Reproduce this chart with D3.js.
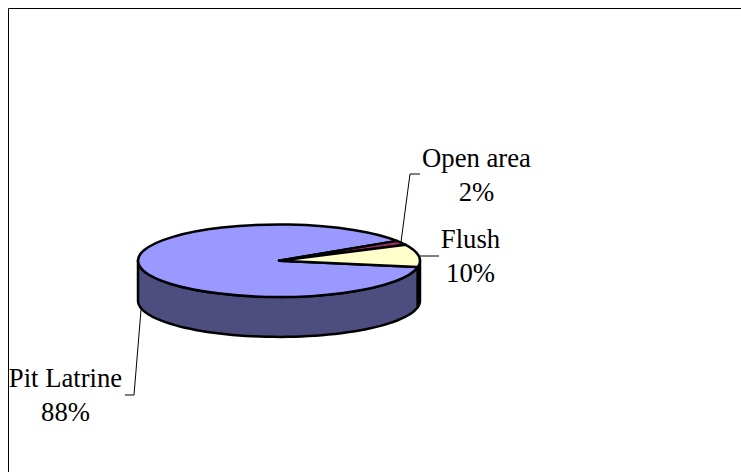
<!DOCTYPE html>
<html>
<head>
<meta charset="utf-8">
<style>
  html, body { margin: 0; padding: 0; background: #fff; }
  svg { display: block; }
  text { font-family: "Liberation Serif", serif; font-size: 26.7px; fill: #000; text-anchor: middle; }
</style>
<script src="https://cdn.jsdelivr.net/npm/d3@7/dist/d3.min.js"></script>
</head>
<body>
<svg id="chart" width="741" height="472"></svg>
<script>
const categories = ["Pit Latrine", "Open area", "Flush"];
const shares = [88, 2, 10];
const topColors = ["#9999ff", "#993366", "#ffffcc"];
const sideColors = ["#4d4d80", "#4d1a33", "#808066"];
const percentLabels = ["88%", "2%", "10%"];

const width = 741, height = 472;
const cx = 279, cy = 260.7, rx = 141, ry = 36.2, depth = 40;
const firstAngle = 100 * Math.PI / 180;

// Label anchors (text centre, first baseline) and leader-line elbows for each slice
const labelAt = [[65.5, 387], [476.5, 167], [470.5, 248]];
const leaders = [
  [[141, 310], [134, 395], [125, 395]],
  [[401, 242], [410, 174], [420, 174]],
  [[420, 256], [439, 256]]
];

const svg = d3.select("#chart");

// Frame open on the right and bottom sides
svg.append("path")
  .attr("d", d3.line()([[8.5, height], [8.5, 8.5], [width, 8.5]]))
  .attr("fill", "none").attr("stroke", "#000").attr("stroke-width", 1);

const arcs = d3.pie().sort(null)
  .startAngle(firstAngle).endAngle(firstAngle + 2 * Math.PI)(shares);

// Point on the tilted rim for a clockwise-from-north angle
const rim = (a, dy) => [cx + rx * Math.sin(a), cy - ry * Math.cos(a) + dy];
const line = d3.line();

// Side wall: only the near half of the rim (90deg to 270deg, also wrapped once) is visible
const near = [[Math.PI / 2, 3 * Math.PI / 2], [Math.PI / 2 + 2 * Math.PI, 3 * Math.PI / 2 + 2 * Math.PI]];
const walls = svg.append("g");
arcs.forEach((d, i) => {
  near.forEach(([lo, hi]) => {
    const a0 = Math.max(d.startAngle, lo), a1 = Math.min(d.endAngle, hi);
    if (a1 <= a0) return;
    const steps = d3.range(0, 61).map(k => a0 + (a1 - a0) * k / 60);
    const pts = steps.map(a => rim(a, 0)).concat(steps.slice().reverse().map(a => rim(a, depth)));
    walls.append("path")
      .attr("d", line(pts) + "Z")
      .attr("fill", sideColors[i])
      .attr("stroke", "#000").attr("stroke-width", 2.5).attr("stroke-linejoin", "round");
  });
});

// Top face: a circular pie squashed into an ellipse
const arc = d3.arc().innerRadius(0).outerRadius(rx);
svg.append("g")
  .attr("transform", `translate(${cx},${cy}) scale(1,${ry / rx})`)
  .selectAll("path").data(arcs).join("path")
  .attr("d", arc)
  .attr("fill", (d, i) => topColors[i])
  .attr("stroke", "#000").attr("stroke-width", 2.5)
  .attr("vector-effect", "non-scaling-stroke")
  .attr("stroke-linejoin", "round");

// Leader lines
svg.append("g").selectAll("path").data(leaders).join("path")
  .attr("d", d => line(d))
  .attr("fill", "none").attr("stroke", "#000").attr("stroke-width", 1);

// Category and percentage labels
const labels = svg.append("g").selectAll("text").data(categories).join("text")
  .attr("x", (d, i) => labelAt[i][0])
  .attr("y", (d, i) => labelAt[i][1]);
labels.append("tspan").text(d => d);
labels.append("tspan")
  .attr("x", (d, i) => labelAt[i][0]).attr("dy", 34)
  .text((d, i) => percentLabels[i]);
</script>
</body>
</html>
